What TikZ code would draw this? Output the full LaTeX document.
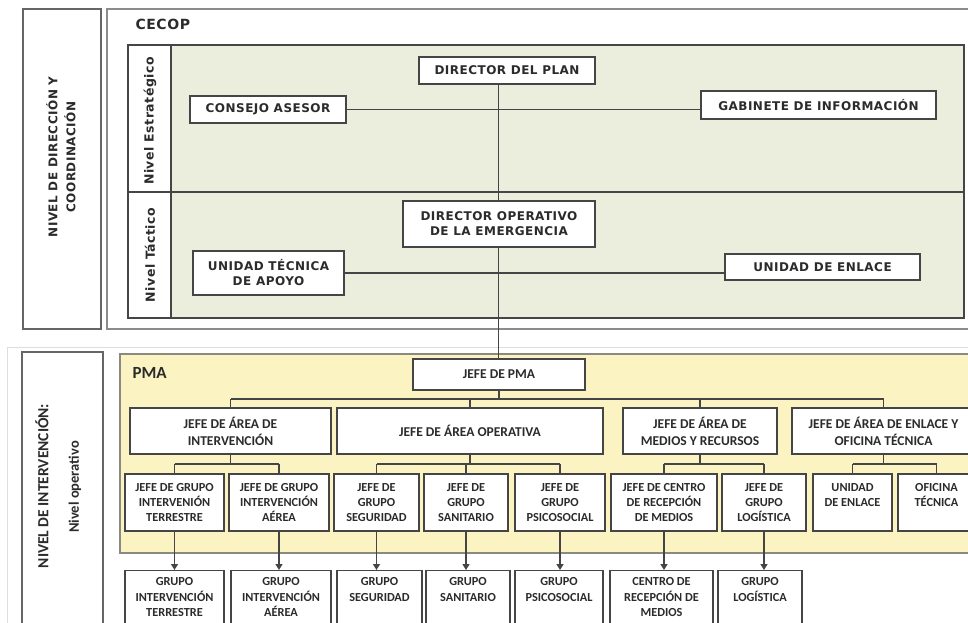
\documentclass[tikz,border=0pt]{standalone}
\usepackage{fontspec}
\setmainfont{Carlito}
\newfontfamily\topfont{DejaVu Sans}[LetterSpace=4]
\newfontfamily\botfont{Carlito}
\usetikzlibrary{arrows.meta}
\definecolor{txt}{HTML}{2B2B2B}
\definecolor{greenfill}{HTML}{EBEEDD}
\definecolor{yellowfill}{HTML}{FBF4C2}
\definecolor{boxline}{HTML}{454545}
\definecolor{outerline}{HTML}{8C8C8C}
\definecolor{sideline}{HTML}{666666}
\definecolor{yline}{HTML}{8A8A80}
\definecolor{faint}{HTML}{DEDEDE}
\begin{document}
\begin{tikzpicture}[x=1pt,y=-1pt,
  topbox/.style={draw=boxline, line width=1.6pt, fill=white, inner sep=0pt, align=center,
    font=\topfont\bfseries\fontsize{12}{15}\selectfont, text=txt},
  botbox/.style={draw=boxline, line width=1.4pt, fill=white, inner sep=0pt, align=center,
    font=\botfont\bfseries\fontsize{12.3}{15.3}\selectfont, text=txt},
  areabox/.style={botbox, font=\botfont\bfseries\fontsize{13.5}{17}\selectfont},
  grpbox/.style={botbox, minimum height=57pt},
  resbox/.style={botbox, anchor=north, inner ysep=7pt},
  conn/.style={draw=boxline, line width=1.4pt},
  arr/.style={conn, -{Triangle[length=6pt,width=7pt]}},
  sidetxt/.style={rotate=90, align=center, text=txt},
]
\useasboundingbox (0,0) rectangle (968,623);
\fill[white] (0,0) rectangle (968,623);
\clip (0,0) rectangle (968,623);

% ---------- top section frames ----------
\draw[draw=sideline, line width=1.6pt] (23,9) rectangle (101,329);
\draw[draw=outerline, line width=1.6pt] (107,9) rectangle (975,329);
\draw[draw=boxline, line width=1.4pt, fill=greenfill] (128,45) rectangle (964,318);
\draw[draw=boxline, line width=1.4pt, fill=white] (128,45) rectangle (171,318);
\draw[draw=boxline, line width=1.4pt] (128,192) -- (964,192);

\node[sidetxt, font=\topfont\bfseries\fontsize{12}{18}\selectfont] (nivdir) at (61,157)
  {NIVEL DE DIRECCIÓN Y\\COORDINACIÓN};
\node[anchor=west, font=\topfont\bfseries\fontsize{14}{16}\selectfont, text=txt] (cecop) at (132,24) {CECOP};
\node[sidetxt, font=\topfont\bfseries\fontsize{12.5}{15}\selectfont] (nest) at (150,121) {Nivel Estratégico};
\node[sidetxt, font=\topfont\bfseries\fontsize{12.5}{15}\selectfont] (ntac) at (150,255) {Nivel Táctico};

% ---------- bottom section frames ----------
\draw[draw=faint, line width=1pt] (7,640) -- (7,347) -- (975,347);
\draw[draw=sideline, line width=1.6pt] (22,352) rectangle (103,640);
\draw[draw=yline, line width=1.4pt, fill=yellowfill] (120,354) rectangle (975,553);

\node[sidetxt, font=\botfont\bfseries\fontsize{15.5}{18}\selectfont] (nivint) at (42,486) {NIVEL DE INTERVENCIÓN:};
\node[sidetxt, font=\botfont\bfseries\fontsize{14.5}{17}\selectfont] (nivop) at (75,487) {Nivel operativo};
\node[anchor=west, font=\botfont\bfseries\fontsize{17}{19}\selectfont, text=txt] (pmalbl) at (129,373) {PMA};

% ---------- coordinates for connectors ----------
\coordinate (spine) at (498.5,0);
\coordinate (busy) at (0,399);
\coordinate (subbusy) at (0,464);

% ---------- top nodes ----------
\node[topbox, minimum width=176pt, minimum height=27pt] (dir) at (507,70.5) {DIRECTOR DEL PLAN};
\node[topbox, minimum width=156pt, minimum height=27pt] (consejo) at (268,109.5) {CONSEJO ASESOR};
\node[topbox, minimum width=235pt, minimum height=28pt] (gab) at (818.5,105) {GABINETE DE INFORMACIÓN};
\node[topbox, minimum width=192pt, minimum height=46pt] (dirop) at (499,224) {DIRECTOR OPERATIVO\\DE LA EMERGENCIA};
\node[topbox, minimum width=151pt, minimum height=44pt] (uta) at (268.5,273) {UNIDAD TÉCNICA\\DE APOYO};
\node[topbox, minimum width=195pt, minimum height=26pt] (ue) at (822.5,267) {UNIDAD DE ENLACE};

% ---------- PMA nodes ----------
\node[areabox, minimum width=172pt, minimum height=31pt] (pma) at (499,374.5) {JEFE DE PMA};
\node[areabox, minimum width=201pt, minimum height=46pt] (a1) at (230.5,431) {JEFE DE ÁREA DE\\INTERVENCIÓN};
\node[areabox, minimum width=266pt, minimum height=46pt] (a2) at (470,431) {JEFE DE ÁREA OPERATIVA};
\node[areabox, minimum width=154pt, minimum height=46pt] (a3) at (700,431) {JEFE DE ÁREA DE\\MEDIOS Y RECURSOS};
\node[areabox, minimum width=183pt, minimum height=46pt] (a4) at (883.5,431) {JEFE DE ÁREA DE ENLACE Y\\OFICINA TÉCNICA};

\node[grpbox, minimum width=99pt] (g1) at (174.5,502.5) {JEFE DE GRUPO\\INTERVENIÓN\\TERRESTRE};
\node[grpbox, minimum width=100pt] (g2) at (279,502.5) {JEFE DE GRUPO\\INTERVENCIÓN\\AÉREA};
\node[grpbox, minimum width=85pt] (g3) at (376.5,502.5) {JEFE DE\\GRUPO\\SEGURIDAD};
\node[grpbox, minimum width=84pt] (g4) at (466,502.5) {JEFE DE\\GRUPO\\SANITARIO};
\node[grpbox, minimum width=90pt] (g5) at (560,502.5) {JEFE DE\\GRUPO\\PSICOSOCIAL};
\node[grpbox, minimum width=106pt] (g6) at (664,502.5) {JEFE DE CENTRO\\DE RECEPCIÓN\\DE MEDIOS};
\node[grpbox, minimum width=84pt] (g7) at (764,502.5) {JEFE DE\\GRUPO\\LOGÍSTICA};
\node[grpbox, minimum width=79pt] (g8) at (852.5,502.5) {UNIDAD\\DE ENLACE\\\mbox{}};
\node[grpbox, minimum width=77pt] (g9) at (936.5,502.5) {OFICINA\\TÉCNICA\\\mbox{}};

\node[resbox, minimum width=99pt] (h1) at (174.5,570) {GRUPO\\INTERVENCIÓN\\TERRESTRE};
\node[resbox, minimum width=100pt] (h2) at (281,570) {GRUPO\\INTERVENCIÓN\\AÉREA};
\node[resbox, minimum width=85pt] (h3) at (379.5,570) {GRUPO\\SEGURIDAD\\\mbox{}};
\node[resbox, minimum width=84pt] (h4) at (468,570) {GRUPO\\SANITARIO\\\mbox{}};
\node[resbox, minimum width=88pt] (h5) at (559,570) {GRUPO\\PSICOSOCIAL\\\mbox{}};
\node[resbox, minimum width=103pt] (h6) at (661.5,570) {CENTRO DE\\RECEPCIÓN DE\\MEDIOS};
\node[resbox, minimum width=84pt] (h7) at (760,570) {GRUPO\\LOGÍSTICA\\\mbox{}};

% ---------- connectors ----------
\draw[conn] (consejo.east) -- (consejo.east -| gab.west);
\draw[conn] (uta.east) -- (uta.east -| ue.west);
\draw[conn] (dir.south -| spine) -- (dirop.north -| spine);
\draw[conn] (dirop.south -| spine) -- (pma.north -| spine);

\draw[conn] (pma.south) -- (pma.south |- busy);
\draw[conn] (a1.north |- busy) -- (a4.north |- busy);
\foreach \a in {a1,a2,a3,a4} \draw[conn] (\a.north |- busy) -- (\a.north);

\draw[conn] (a1.south) -- (a1.south |- subbusy);
\draw[conn] (g1.north |- subbusy) -- (g2.north |- subbusy);
\draw[conn] (a2.south) -- (a2.south |- subbusy);
\draw[conn] (g3.north |- subbusy) -- (g5.north |- subbusy);
\draw[conn] (a3.south) -- (a3.south |- subbusy);
\draw[conn] (g6.north |- subbusy) -- (g7.north |- subbusy);
\draw[conn] (a4.south) -- (a4.south |- subbusy);
\draw[conn] (g8.north |- subbusy) -- (g9.north |- subbusy);
\foreach \g in {g1,g2,g3,g4,g5,g6,g7,g8,g9} \draw[conn] (\g.north |- subbusy) -- (\g.north);

\foreach \g/\h in {g1/h1,g2/h2,g3/h3,g4/h4,g5/h5,g6/h6,g7/h7}
  \draw[arr] (\g.south) -- (\g.south |- \h.north);
\end{tikzpicture}
\end{document}
